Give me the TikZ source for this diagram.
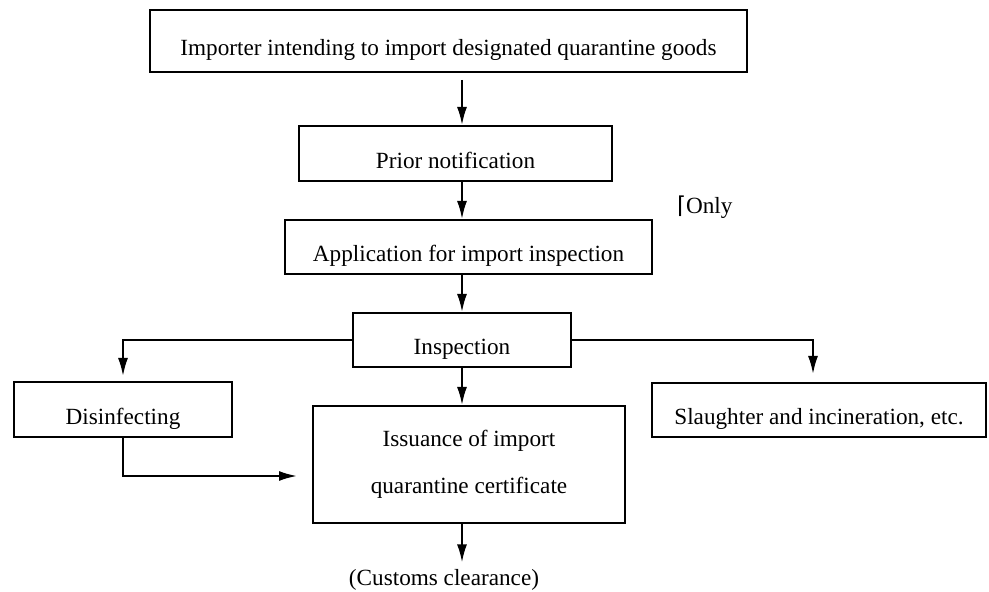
\documentclass[tikz,border=0pt]{standalone}
\usepackage{fontspec}
\setmainfont{Liberation Serif}
\newfontfamily\symbfont{DejaVu Sans}
\usetikzlibrary{arrows.meta}

\begin{document}
\begin{tikzpicture}[x=0.5pt,y=-0.5pt,font=\fontsize{11.6}{14}\selectfont]
\tikzstyle{arrow}=[-{Latex[length=9pt,width=5pt]}, line width=1pt]
\tikzstyle{box}=[draw, line width=1pt, inner sep=0pt, text height=15pt, text depth=0pt]
\useasboundingbox (0,0) rectangle (989,592);
\draw node[box, minimum width=298.5pt, minimum height=31pt] (imp) at (448.5,41) {Importer intending to import designated quarantine goods};
\draw node[box, minimum width=156.5pt, minimum height=27.5pt] (prior) at (455.5,153.5) {Prior notification};
\draw node[box, minimum width=183.5pt, minimum height=27pt] (appl) at (468.5,247) {Application for import inspection};
\draw node[box, minimum width=109pt, minimum height=27pt] (insp) at (462,340) {Inspection};
\draw node[box, minimum width=109pt, minimum height=27.5pt] (disinf) at (123,409.5) {Disinfecting};
\draw node[box, minimum width=167pt, minimum height=27pt] (slaughter) at (819,410) {Slaughter and incineration, etc.};
\draw node[box, text height=, text depth=, align=center, minimum width=156pt, minimum height=58.5pt,
  font=\fontsize{11.6}{23.5}\selectfont] (issue) at (469,464.5) {Issuance of import\\quarantine certificate};
\draw node (customs) at (444,580) {(Customs clearance)};
\draw node[anchor=west] (only) at (670,207) {{\symbfont ⌈}Only};

\draw[arrow, shorten <=3.5pt] (imp.south -| insp) -- (prior.north -| insp);
\draw[arrow] (prior.south -| insp) -- (appl.north -| insp);
\draw[arrow] (appl.south -| insp) -- (insp.north);
\draw[arrow] (insp.south) -- (issue.north -| insp);
\draw[arrow] (issue.south -| insp) -- (customs.north -| insp);
\draw[arrow, shorten >=2.5pt] (insp.west) -| (disinf.north);
\draw[arrow, shorten >=4pt] (insp.east) -| ([xshift=-3pt]slaughter.north);
\draw[arrow] (disinf.south) |- ([xshift=-7.5pt,yshift=-5.75pt]issue.west);

\end{tikzpicture}
\end{document}
